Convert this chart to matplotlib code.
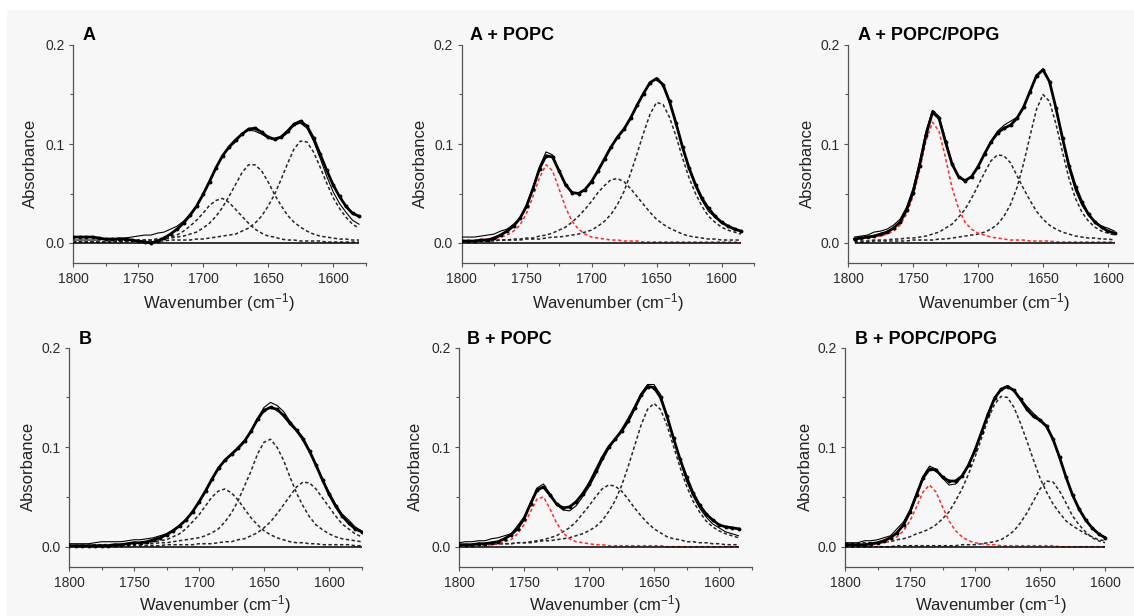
import numpy as np
import matplotlib
matplotlib.use("Agg")
import matplotlib.pyplot as plt
from matplotlib.ticker import MultipleLocator, FormatStrFormatter
from matplotlib.patches import Rectangle

plt.rcParams['font.family'] = ['Liberation Sans', 'DejaVu Sans']
plt.rcParams['mathtext.default'] = 'regular'

# ---------------- wavenumber sampling grids (cm-1) ----------------
wn_A = np.arange(1800, 1575, -5)        # 1800 .. 1580
wn_A_pc = np.arange(1800, 1580, -5)     # 1800 .. 1585
wn_A_pg = np.arange(1795, 1590, -5)     # 1795 .. 1595
wn_B = np.arange(1800, 1570, -5)        # 1800 .. 1575
wn_B_pc = np.arange(1800, 1580, -5)     # 1800 .. 1585
wn_B_pg = np.arange(1800, 1595, -5)     # 1800 .. 1600

# ---------------- panel A ----------------
A_data = [0.006, 0.006, 0.006, 0.006, 0.005, 0.004, 0.004, 0.004, 0.004, 0.003,
          0.002, 0.001, 0.000, 0.002, 0.005, 0.009, 0.014, 0.020, 0.028, 0.037,
          0.049, 0.062, 0.076, 0.088, 0.097, 0.104, 0.110, 0.115, 0.116, 0.112,
          0.107, 0.105, 0.107, 0.113, 0.120, 0.123, 0.118, 0.106, 0.090, 0.074,
          0.059, 0.047, 0.037, 0.030, 0.027]
A_band1 = [0.001, 0.001, 0.001, 0.001, 0.001, 0.001, 0.001, 0.002, 0.002, 0.002,
           0.002, 0.003, 0.003, 0.004, 0.005, 0.006, 0.008, 0.012, 0.017, 0.023,
           0.030, 0.038, 0.043, 0.045, 0.041, 0.034, 0.027, 0.020, 0.014, 0.010,
           0.007, 0.006, 0.004, 0.003, 0.003, 0.002, 0.002, 0.002, 0.002, 0.001,
           0.001, 0.001, 0.001, 0.001, 0.001]
A_band2 = [0.001, 0.001, 0.001, 0.001, 0.001, 0.002, 0.002, 0.002, 0.002, 0.002,
           0.003, 0.003, 0.003, 0.004, 0.004, 0.005, 0.006, 0.007, 0.009, 0.011,
           0.015, 0.020, 0.027, 0.036, 0.047, 0.059, 0.071, 0.079, 0.079, 0.073,
           0.062, 0.049, 0.038, 0.028, 0.021, 0.016, 0.012, 0.009, 0.007, 0.006,
           0.005, 0.004, 0.004, 0.003, 0.003]
A_band3 = [0.001, 0.001, 0.001, 0.001, 0.001, 0.001, 0.001, 0.001, 0.001, 0.002,
           0.002, 0.002, 0.002, 0.002, 0.002, 0.003, 0.003, 0.003, 0.003, 0.004,
           0.004, 0.005, 0.006, 0.007, 0.008, 0.009, 0.012, 0.015, 0.020, 0.027,
           0.037, 0.049, 0.064, 0.080, 0.095, 0.103, 0.102, 0.092, 0.077, 0.061,
           0.046, 0.035, 0.026, 0.019, 0.015]

# ---------------- panel A + POPC ----------------
Apc_data = [0.002, 0.002, 0.002, 0.003, 0.003, 0.005, 0.008, 0.012, 0.017, 0.025,
            0.037, 0.055, 0.075, 0.088, 0.087, 0.073, 0.059, 0.051, 0.050, 0.054,
            0.062, 0.073, 0.085, 0.097, 0.107, 0.115, 0.126, 0.139, 0.151, 0.162,
            0.166, 0.160, 0.143, 0.121, 0.097, 0.076, 0.059, 0.045, 0.035, 0.027,
            0.021, 0.017, 0.014, 0.012]
Apc_lipid = [0.002, 0.002, 0.002, 0.003, 0.004, 0.004, 0.006, 0.008, 0.012, 0.018,
             0.030, 0.047, 0.066, 0.079, 0.073, 0.055, 0.036, 0.022, 0.014, 0.009,
             0.006, 0.005, 0.004, 0.003, 0.003, 0.002, 0.002, 0.002, 0.001, 0.001,
             0.001, 0.001, 0.001, 0.001, 0.001, 0.001, 0.001, 0.001, 0.001, 0.001,
             0.001, 0.001, 0.001, 0.000]
Apc_band2 = [0.002, 0.002, 0.002, 0.002, 0.002, 0.003, 0.003, 0.003, 0.004, 0.004,
             0.005, 0.005, 0.007, 0.008, 0.010, 0.013, 0.016, 0.021, 0.027, 0.034,
             0.042, 0.051, 0.058, 0.064, 0.065, 0.062, 0.055, 0.047, 0.039, 0.031,
             0.024, 0.019, 0.015, 0.012, 0.009, 0.007, 0.006, 0.005, 0.004, 0.004,
             0.003, 0.003, 0.003, 0.003]
Apc_band3 = [0.002, 0.002, 0.002, 0.002, 0.002, 0.002, 0.003, 0.003, 0.003, 0.003,
             0.004, 0.004, 0.004, 0.005, 0.006, 0.006, 0.007, 0.008, 0.009, 0.011,
             0.013, 0.017, 0.022, 0.029, 0.039, 0.052, 0.070, 0.090, 0.111, 0.130,
             0.142, 0.140, 0.127, 0.108, 0.086, 0.066, 0.050, 0.037, 0.027, 0.021,
             0.016, 0.013, 0.011, 0.009]

# ---------------- panel A + POPC/POPG ----------------
Apg_data = [0.004, 0.005, 0.006, 0.007, 0.009, 0.011, 0.015, 0.021, 0.033, 0.051,
            0.078, 0.109, 0.132, 0.126, 0.102, 0.080, 0.067, 0.063, 0.067, 0.077,
            0.090, 0.102, 0.111, 0.116, 0.119, 0.126, 0.137, 0.153, 0.169, 0.175,
            0.163, 0.136, 0.106, 0.078, 0.057, 0.041, 0.029, 0.021, 0.016, 0.012,
            0.010]
Apg_lipid = [0.003, 0.004, 0.005, 0.006, 0.007, 0.009, 0.012, 0.018, 0.029, 0.047,
             0.073, 0.103, 0.122, 0.113, 0.086, 0.056, 0.035, 0.021, 0.014, 0.010,
             0.008, 0.006, 0.005, 0.004, 0.003, 0.003, 0.003, 0.002, 0.002, 0.002,
             0.002, 0.001, 0.001, 0.001, 0.001, 0.001, 0.001, 0.001, 0.001, 0.001,
             0.001]
Apg_band2 = [0.002, 0.002, 0.002, 0.003, 0.003, 0.003, 0.004, 0.004, 0.005, 0.005,
             0.006, 0.007, 0.009, 0.011, 0.015, 0.019, 0.026, 0.034, 0.045, 0.058,
             0.071, 0.083, 0.089, 0.088, 0.081, 0.068, 0.055, 0.043, 0.032, 0.024,
             0.018, 0.014, 0.011, 0.009, 0.007, 0.006, 0.005, 0.005, 0.004, 0.004,
             0.003]
Apg_band3 = [0.001, 0.001, 0.001, 0.002, 0.002, 0.002, 0.002, 0.002, 0.002, 0.003,
             0.003, 0.003, 0.003, 0.004, 0.004, 0.005, 0.006, 0.007, 0.008, 0.009,
             0.011, 0.014, 0.019, 0.027, 0.039, 0.056, 0.080, 0.108, 0.135, 0.150,
             0.143, 0.120, 0.092, 0.065, 0.045, 0.031, 0.022, 0.016, 0.012, 0.010,
             0.008]

# ---------------- panel B ----------------
B_data = [0.001, 0.001, 0.001, 0.001, 0.001, 0.001, 0.001, 0.002, 0.002, 0.003,
          0.004, 0.004, 0.005, 0.007, 0.009, 0.012, 0.016, 0.021, 0.027, 0.035,
          0.045, 0.056, 0.068, 0.079, 0.087, 0.093, 0.099, 0.106, 0.116, 0.128,
          0.137, 0.140, 0.138, 0.132, 0.124, 0.117, 0.108, 0.096, 0.082, 0.067,
          0.053, 0.041, 0.031, 0.024, 0.018, 0.015]
B_band1 = [0.001, 0.001, 0.001, 0.001, 0.001, 0.002, 0.002, 0.002, 0.002, 0.003,
           0.003, 0.003, 0.004, 0.005, 0.006, 0.007, 0.010, 0.013, 0.018, 0.025,
           0.032, 0.041, 0.050, 0.056, 0.058, 0.054, 0.047, 0.038, 0.029, 0.022,
           0.016, 0.012, 0.009, 0.007, 0.005, 0.004, 0.004, 0.003, 0.003, 0.002,
           0.002, 0.002, 0.002, 0.002, 0.001, 0.001]
B_band2 = [0.001, 0.001, 0.001, 0.001, 0.002, 0.002, 0.002, 0.002, 0.002, 0.002,
           0.003, 0.003, 0.003, 0.003, 0.004, 0.004, 0.005, 0.006, 0.007, 0.008,
           0.009, 0.011, 0.014, 0.018, 0.025, 0.034, 0.046, 0.061, 0.076, 0.093,
           0.105, 0.108, 0.100, 0.087, 0.070, 0.054, 0.041, 0.030, 0.022, 0.017,
           0.013, 0.010, 0.008, 0.007, 0.006, 0.005]
B_band3 = [0.001, 0.001, 0.001, 0.001, 0.001, 0.001, 0.001, 0.001, 0.001, 0.001,
           0.001, 0.001, 0.001, 0.001, 0.001, 0.002, 0.002, 0.002, 0.002, 0.002,
           0.003, 0.003, 0.003, 0.004, 0.005, 0.005, 0.007, 0.008, 0.011, 0.014,
           0.019, 0.025, 0.033, 0.042, 0.051, 0.060, 0.065, 0.064, 0.058, 0.049,
           0.040, 0.031, 0.023, 0.018, 0.013, 0.010]

# ---------------- panel B + POPC ----------------
Bpc_data = [0.002, 0.002, 0.002, 0.003, 0.003, 0.004, 0.005, 0.008, 0.012, 0.018,
            0.028, 0.043, 0.057, 0.060, 0.052, 0.043, 0.039, 0.040, 0.045, 0.053,
            0.063, 0.076, 0.089, 0.100, 0.108, 0.116, 0.126, 0.139, 0.152, 0.161,
            0.160, 0.150, 0.131, 0.109, 0.088, 0.070, 0.054, 0.042, 0.033, 0.027,
            0.022, 0.020, 0.019, 0.018]
Bpc_lipid = [0.001, 0.001, 0.001, 0.002, 0.002, 0.003, 0.003, 0.005, 0.007, 0.013,
             0.022, 0.035, 0.048, 0.050, 0.038, 0.024, 0.014, 0.008, 0.005, 0.004,
             0.003, 0.002, 0.002, 0.001, 0.001, 0.001, 0.001, 0.001, 0.001, 0.001,
             0.001, 0.001, 0.000, 0.000, 0.000, 0.000, 0.000, 0.000, 0.000, 0.000,
             0.000, 0.000, 0.000, 0.000]
Bpc_band2 = [0.001, 0.002, 0.002, 0.002, 0.002, 0.002, 0.003, 0.003, 0.003, 0.004,
             0.004, 0.005, 0.006, 0.007, 0.009, 0.011, 0.015, 0.019, 0.025, 0.033,
             0.041, 0.050, 0.058, 0.062, 0.061, 0.056, 0.048, 0.039, 0.031, 0.024,
             0.018, 0.014, 0.010, 0.008, 0.007, 0.005, 0.005, 0.004, 0.004, 0.003,
             0.003, 0.002, 0.002, 0.002]
Bpc_band3 = [0.002, 0.002, 0.002, 0.002, 0.002, 0.003, 0.003, 0.003, 0.003, 0.004,
             0.004, 0.004, 0.005, 0.006, 0.006, 0.007, 0.008, 0.009, 0.011, 0.013,
             0.016, 0.020, 0.026, 0.035, 0.046, 0.061, 0.080, 0.101, 0.122, 0.138,
             0.144, 0.138, 0.122, 0.101, 0.080, 0.061, 0.046, 0.035, 0.026, 0.020,
             0.016, 0.013, 0.011, 0.009]

# ---------------- panel B + POPC/POPG ----------------
Bpg_data = [0.002, 0.002, 0.002, 0.002, 0.003, 0.004, 0.006, 0.009, 0.014, 0.022,
            0.035, 0.052, 0.069, 0.078, 0.077, 0.070, 0.066, 0.066, 0.071, 0.082,
            0.097, 0.115, 0.133, 0.149, 0.158, 0.161, 0.157, 0.148, 0.138, 0.131,
            0.127, 0.121, 0.108, 0.090, 0.070, 0.052, 0.038, 0.027, 0.019, 0.013,
            0.009]
Bpg_lipid = [0.001, 0.001, 0.001, 0.002, 0.002, 0.003, 0.004, 0.006, 0.010, 0.016,
             0.026, 0.040, 0.055, 0.062, 0.055, 0.040, 0.026, 0.016, 0.010, 0.006,
             0.004, 0.003, 0.002, 0.002, 0.001, 0.001, 0.001, 0.001, 0.001, 0.001,
             0.001, 0.001, 0.001, 0.000, 0.000, 0.000, 0.000, 0.000, 0.000, 0.000,
             0.000]
Bpg_band2 = [0.003, 0.003, 0.003, 0.004, 0.004, 0.004, 0.005, 0.005, 0.007, 0.008,
             0.010, 0.013, 0.015, 0.018, 0.022, 0.028, 0.035, 0.046, 0.058, 0.073,
             0.090, 0.109, 0.128, 0.143, 0.151, 0.150, 0.140, 0.124, 0.106, 0.087,
             0.069, 0.055, 0.043, 0.034, 0.026, 0.021, 0.017, 0.013, 0.010, 0.007,
             0.006]
Bpg_band3 = [0.000, 0.000, 0.000, 0.000, 0.000, 0.000, 0.000, 0.000, 0.001, 0.001,
             0.001, 0.001, 0.001, 0.001, 0.001, 0.001, 0.001, 0.001, 0.002, 0.002,
             0.002, 0.003, 0.004, 0.005, 0.007, 0.011, 0.016, 0.024, 0.034, 0.046,
             0.058, 0.066, 0.065, 0.056, 0.044, 0.031, 0.022, 0.015, 0.009, 0.006,
             0.004]

# ---------------- panel texts ----------------
titles = ["A", "A + POPC", "A + POPC/POPG", "B", "B + POPC", "B + POPC/POPG"]
x_label = "Wavenumber (cm$^{-1}$)"
y_label = "Absorbance"
x_ticks = [1800, 1750, 1700, 1650, 1600]
y_ticks = [0.0, 0.1, 0.2]

BLACK_BAND = '#262626'
RED_BAND = '#ff2a2a'

panels = [
    (wn_A, A_data, [(A_band1, BLACK_BAND), (A_band2, BLACK_BAND), (A_band3, BLACK_BAND)]),
    (wn_A_pc, Apc_data, [(Apc_band2, BLACK_BAND), (Apc_band3, BLACK_BAND), (Apc_lipid, RED_BAND)]),
    (wn_A_pg, Apg_data, [(Apg_band2, BLACK_BAND), (Apg_band3, BLACK_BAND), (Apg_lipid, RED_BAND)]),
    (wn_B, B_data, [(B_band1, BLACK_BAND), (B_band2, BLACK_BAND), (B_band3, BLACK_BAND)]),
    (wn_B_pc, Bpc_data, [(Bpc_band2, BLACK_BAND), (Bpc_band3, BLACK_BAND), (Bpc_lipid, RED_BAND)]),
    (wn_B_pg, Bpg_data, [(Bpg_band2, BLACK_BAND), (Bpg_band3, BLACK_BAND), (Bpg_lipid, RED_BAND)]),
]

# ---------------- layout (pixels of a 1134 x 616 canvas) ----------------
W, H = 1134, 616
axes_left_px = [73, 461.5, 848, 69, 459, 845]
row_top_px = [45, 347.7]
row_bot_px = [262.8, 566.6]
axes_w_px = 292.5
title_pos_px = [(83, 35), (470.5, 35), (858, 35), (79, 339), (467, 339), (855, 339)]
ylab_x_px = [30, 420, 807, 28, 415, 805]
xlab_y_px = [303, 605]

fig = plt.figure(figsize=(W / 100, H / 100), dpi=100)
fig.patch.set_facecolor('#f7f7f7')
fig.patches.append(Rectangle((0, 1 - 10 / H), 1, 10 / H, transform=fig.transFigure,
                             facecolor='white', edgecolor='none', zorder=-9))
fig.patches.append(Rectangle((0, 0), 7 / W, 1, transform=fig.transFigure,
                             facecolor='white', edgecolor='none', zorder=-9))

for i, (wn, data, bands) in enumerate(panels):
    row = i // 3
    top, bot = row_top_px[row], row_bot_px[row]
    rect = [axes_left_px[i] / W, (H - bot) / H, axes_w_px / W, (bot - top) / H]
    ax = fig.add_axes(rect)
    ax.patch.set_visible(False)

    for band, col in bands:
        ax.plot(wn, band, color=col, lw=1.1, ls=(0, (2.2, 1.6)), zorder=2)
    ax.hlines(0.0, wn.min(), wn.max(), color='black', lw=1.1, zorder=3)
    fit = np.sum([np.asarray(b) for b, _ in bands], axis=0)
    ax.plot(wn, fit, color='black', lw=0.8, zorder=4)
    ax.plot(wn, data, color='black', lw=2.0, marker='o', ms=2.8,
            markeredgewidth=0, zorder=5)

    ax.set_xlim(1800, 1575)
    ax.set_ylim(-0.02, 0.2)
    ax.set_xticks(x_ticks)
    ax.set_yticks(y_ticks)
    ax.xaxis.set_minor_locator(MultipleLocator(25))
    ax.yaxis.set_minor_locator(MultipleLocator(0.05))
    ax.yaxis.set_major_formatter(FormatStrFormatter('%.1f'))
    for side in ('top', 'right'):
        ax.spines[side].set_visible(False)
    for side in ('left', 'bottom'):
        ax.spines[side].set_color('#555555')
        ax.spines[side].set_linewidth(0.9)
    ax.tick_params(which='both', direction='out', color='#555555', width=0.8,
                   labelsize=10, labelcolor='#2b2b2b')
    ax.tick_params(which='major', length=3)
    ax.tick_params(which='minor', length=2)
    ax.tick_params(axis='x', pad=3.5)
    ax.tick_params(axis='y', pad=3)

    ax.set_xlabel(x_label, fontsize=12, color='#222222')
    ax.xaxis.set_label_coords(0.5, -(xlab_y_px[row] - bot) / (bot - top))
    ax.xaxis.label.set_va('center')
    ax.set_ylabel(y_label, fontsize=12, color='#222222')
    ax.yaxis.set_label_coords((ylab_x_px[i] - axes_left_px[i]) / axes_w_px, 0.457)
    ax.yaxis.label.set_va('center')

    tx, ty = title_pos_px[i]
    fig.text(tx / W, 1 - ty / H, titles[i], fontsize=13, fontweight='bold',
             ha='left', va='center', color='black')

fig.savefig('out.png', dpi=100, facecolor=fig.get_facecolor())
